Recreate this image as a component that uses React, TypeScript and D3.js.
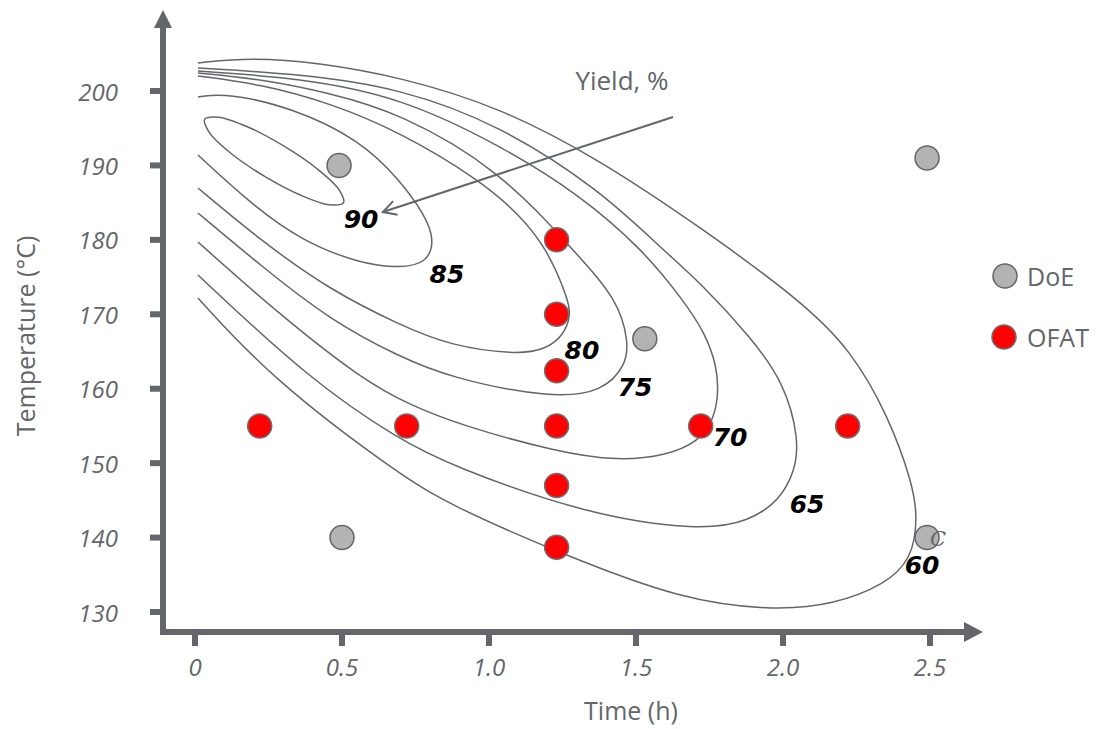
import React from "react";
import * as d3 from "d3";

// time (h) and temperature (°C)
const xTicks = [0, 0.5, 1.0, 1.5, 2.0, 2.5];
const xTickLabels = ["0", "0.5", "1.0", "1.5", "2.0", "2.5"];
const yTicks = [130, 140, 150, 160, 170, 180, 190, 200];

const doePoints: [number, number][] = [
  [0.49, 190], [0.5, 140], [1.53, 166.7], [2.49, 191], [2.49, 140],
];
const ofatPoints: [number, number][] = [
  [0.22, 155], [0.72, 155], [1.23, 155], [1.72, 155], [2.22, 155],
  [1.23, 180], [1.23, 170], [1.23, 162.4], [1.23, 147], [1.23, 138.7],
];

// yield contours (t, T)
const contour90: [number, number][] = [
  [0.505, 184.99], [0.457, 184.71], [0.36, 185.99], [0.237, 188.53], [0.123, 191.6],
  [0.049, 194.41], [0.033, 196.2], [0.08, 196.48], [0.178, 195.2], [0.3, 192.66],
  [0.414, 189.59], [0.489, 186.78],
];
const contour85: [number, number][] = [
  [0.01, 199.19], [0.109, 199.73], [0.333, 197.72], [0.561, 193.42], [0.697, 188.04],
  [0.782, 183.34], [0.815, 179.98], [0.79, 176.9], [0.697, 176.2], [0.561, 176.8],
  [0.357, 179.98], [0.187, 184.95], [0.01, 191.4],
];
const contour80: [number, number][] = [
  [0.01, 202.02], [0.221, 200.94], [0.459, 198.39], [0.697, 194.49], [0.969, 188.04],
  [1.105, 183.34], [1.2, 178.64], [1.27, 171.92], [1.278, 169.9], [1.255, 167.2],
  [1.19, 165.2], [1.088, 164.6], [0.867, 165.8], [0.697, 168.56], [0.459, 173.26],
  [0.221, 179.98], [0.01, 186.97],
];
const contour75: [number, number][] = [
  [0.01, 202.42], [0.221, 201.61], [0.459, 199.73], [0.697, 197.04], [1.037, 189.39],
  [1.286, 178.64], [1.44, 171.92], [1.475, 166.14], [1.465, 163.2], [1.39, 159.6],
  [1.207, 158.7], [0.867, 161.5], [0.697, 164.26], [0.459, 169.23], [0.221, 176.62],
  [0.01, 183.61],
];
const contour70: [number, number][] = [
  [0.01, 202.69], [0.357, 201.75], [0.697, 199.19], [1.037, 192.75], [1.31, 186.03],
  [1.524, 178.64], [1.66, 171.92], [1.735, 167.49], [1.776, 162.92], [1.78, 159.16],
  [1.765, 156.0], [1.715, 152.9], [1.6, 151.0], [1.44, 150.3], [1.231, 151.5],
  [0.901, 155.13], [0.731, 157.81], [0.571, 161.17], [0.289, 169.9], [0.01, 179.71],
];
const contour65: [number, number][] = [
  [0.01, 203.09], [0.357, 202.28], [0.697, 200.4], [1.037, 195.43], [1.378, 186.7],
  [1.592, 178.64], [1.72, 174.2], [1.89, 166.95], [2.005, 160.77], [2.055, 153.11],
  [2.04, 148.9], [1.99, 145.1], [1.888, 142.2], [1.718, 140.9], [1.32, 143.2],
  [0.867, 149.75], [0.697, 153.11], [0.391, 161.17], [0.01, 175.28],
];
const contour60: [number, number][] = [
  [0.01, 203.76], [0.187, 204.5], [0.425, 203.8], [0.697, 201.88], [1.037, 197.85],
  [1.378, 190.73], [1.718, 181.73], [2.058, 171.92], [2.232, 165.2], [2.36, 156.2],
  [2.44, 147.33], [2.458, 142.77], [2.44, 137.2], [2.345, 133.6], [2.17, 131.0],
  [1.98, 130.2], [1.66, 131.5], [1.231, 138.06], [0.867, 144.38], [0.697, 148.41],
  [0.265, 161.17], [0.01, 172.19],
];

const openContours = [contour85, contour80, contour75, contour70, contour65, contour60];
const contourLabels = ["90", "85", "80", "75", "70", "65", "60"];
const labelSpots: [number, number][] = [
  [0.565, 182.8], [0.857, 175.41], [1.316, 165.2], [1.497, 160.1],
  [1.82, 153.38], [2.082, 144.38], [2.473, 136.2],
];
const yieldArrow: [number, number][] = [[1.626, 196.51], [0.639, 183.74]];

const W = 1097;
const H = 729;
const gray = "#63666a";
const font = "'Open Sans', 'Noto Sans', sans-serif";

export default function App() {
  const x = d3.scaleLinear().domain([0, 2.5]).range([195, 930]);
  const y = d3.scaleLinear().domain([130, 200]).range([612, 91]);

  const axisX = x(0) - 32;
  const axisY = y(130) + 20;
  const yTop = y(200) - 81;
  const xEnd = x(2.5) + 53;

  const line = d3
    .line<[number, number]>()
    .x((d) => x(d[0]))
    .y((d) => y(d[1]))
    .curve(d3.curveBasis);
  const closed = d3
    .line<[number, number]>()
    .x((d) => x(d[0]))
    .y((d) => y(d[1]))
    .curve(d3.curveCatmullRomClosed.alpha(0.5));

  // arrow head for "Yield, %"
  const [a0, a1] = yieldArrow;
  const ax0 = x(a0[0]), ay0 = y(a0[1]), ax1 = x(a1[0]), ay1 = y(a1[1]);
  const ang = Math.atan2(ay0 - ay1, ax0 - ax1);
  const head = 15;
  const spread = 0.5;
  const hx1 = ax1 + head * Math.cos(ang - spread);
  const hy1 = ay1 + head * Math.sin(ang - spread);
  const hx2 = ax1 + head * Math.cos(ang + spread);
  const hy2 = ay1 + head * Math.sin(ang + spread);

  return (
    <svg
      width={W}
      height={H}
      style={{ position: "absolute", left: 0, top: 0, background: "#fff" }}
    >
      {/* contours */}
      <g fill="none" stroke={gray} strokeWidth={1.5}>
        <path d={closed(contour90) || ""} />
        {openContours.map((c, i) => (
          <path key={i} d={line(c) || ""} />
        ))}
      </g>

      {/* axes */}
      <g stroke={gray} strokeWidth={6} fill={gray}>
        <line x1={axisX} x2={axisX} y1={axisY + 3} y2={yTop + 16} />
        <polygon points={`${axisX - 9},${yTop + 18} ${axisX + 9},${yTop + 18} ${axisX},${yTop}`} strokeWidth={0} />
        <line x1={axisX - 3} x2={xEnd - 16} y1={axisY} y2={axisY} />
        <polygon points={`${xEnd - 19},${axisY - 10} ${xEnd - 19},${axisY + 10} ${xEnd},${axisY}`} strokeWidth={0} />
        {yTicks.map((t) => (
          <line key={t} x1={axisX - 13} x2={axisX} y1={y(t)} y2={y(t)} />
        ))}
        {xTicks.map((t) => (
          <line key={t} x1={x(t)} x2={x(t)} y1={axisY} y2={axisY + 14} />
        ))}
      </g>

      {/* tick labels */}
      <g fill={gray} fontFamily={font} fontStyle="italic" fontSize={24}>
        {yTicks.map((t) => (
          <text key={t} x={118} y={y(t)} textAnchor="end" dominantBaseline="central">
            {t}
          </text>
        ))}
        {xTicks.map((t, i) => (
          <text key={t} x={x(t)} y={676} textAnchor="middle">
            {xTickLabels[i]}
          </text>
        ))}
      </g>

      {/* axis titles */}
      <text
        transform={`translate(35, ${336}) rotate(-90)`}
        textAnchor="middle"
        fill={gray}
        fontFamily={font}
        fontSize={25}
      >
        Temperature (°C)
      </text>
      <text x={631} y={720} textAnchor="middle" fill={gray} fontFamily={font} fontSize={25}>
        Time (h)
      </text>

      {/* yield annotation */}
      <text x={622} y={90} textAnchor="middle" fill={gray} fontFamily={font} fontSize={26}>
        Yield, %
      </text>
      <g stroke={gray} strokeWidth={2} fill="none">
        <line x1={ax0} y1={ay0} x2={ax1} y2={ay1} />
        <polyline points={`${hx1},${hy1} ${ax1},${ay1} ${hx2},${hy2}`} />
      </g>

      {/* points */}
      {doePoints.map((d, i) => (
        <circle key={"d" + i} cx={x(d[0])} cy={y(d[1])} r={12} fill="#b3b3b3" stroke={gray} strokeWidth={1.5} />
      ))}
      {ofatPoints.map((d, i) => (
        <circle key={"o" + i} cx={x(d[0])} cy={y(d[1])} r={12} fill="#ff0000" stroke="#6f6f6f" strokeWidth={1.5} />
      ))}

      {/* contour labels */}
      <g fontFamily="'DejaVu Sans', Verdana, sans-serif" fontWeight="bold" fontStyle="italic" fontSize={25} fill="#000">
        {contourLabels.map((l, i) => (
          <text key={l} x={x(labelSpots[i][0])} y={y(labelSpots[i][1])} textAnchor="middle" dominantBaseline="central">
            {l}
          </text>
        ))}
      </g>
      <text x={938} y={546} textAnchor="middle" fill={gray} fontFamily="'DejaVu Serif', serif" fontStyle="italic" fontSize={21}>
        C
      </text>

      {/* legend */}
      <circle cx={1005} cy={276} r={12} fill="#b3b3b3" stroke={gray} strokeWidth={1.5} />
      <text x={1027} y={286} fill={gray} fontFamily={font} fontSize={25}>DoE</text>
      <circle cx={1004} cy={337} r={12} fill="#ff0000" stroke="#6f6f6f" strokeWidth={1.5} />
      <text x={1027} y={347} fill={gray} fontFamily={font} fontSize={25}>OFAT</text>
    </svg>
  );
}
